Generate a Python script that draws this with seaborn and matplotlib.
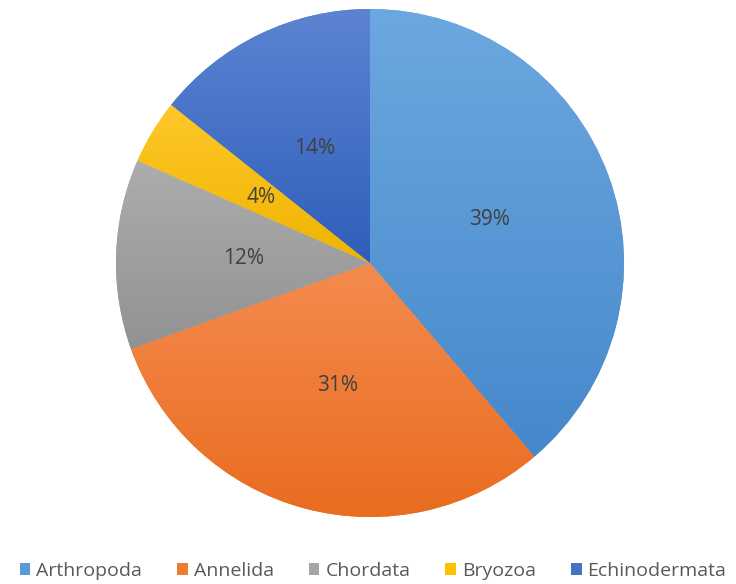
import numpy as np
import matplotlib
matplotlib.use("Agg")
import matplotlib.pyplot as plt
import matplotlib.colors as mcolors
import seaborn as sns

categories = ["Arthropoda", "Annelida", "Chordata", "Bryozoa", "Echinodermata"]
values = [38.8, 30.7, 12.1, 4.1, 14.3]
colors = ["#5B9BD5", "#ED7D31", "#A5A5A5", "#FFC000", "#4472C4"]
grad_top = ["#6CA8E0", "#F48B4E", "#ADADAD", "#FFC82A", "#5C84D2"]
grad_bot = ["#4588CB", "#E96C1F", "#929292", "#EFB300", "#2F5EBA"]

sns.set_theme(style="white")
plt.rcParams["font.family"] = ["Open Sans", "DejaVu Sans"]

W, H = 736, 584
fig = plt.figure(figsize=(W / 100, H / 100), dpi=100)
cx, cy, R = 370, 263, 254
ax = fig.add_axes([(cx - R) / W, (H - cy - R) / H, 2 * R / W, 2 * R / H])

wedges, texts, autotexts = ax.pie(
    values, colors=colors, startangle=90, counterclock=False,
    autopct="%.0f%%", pctdistance=0.5, radius=1,
    wedgeprops=dict(linewidth=0), textprops=dict(color="#404040", fontsize=15),
)
ax.set_aspect("equal")
ax.axis("off")

for w, ctop, cbot in zip(wedges, grad_top, grad_bot):
    bb = w.get_path().get_extents(w.get_patch_transform())
    top = np.array(mcolors.to_rgb(ctop))
    bot = np.array(mcolors.to_rgb(cbot))
    tt = np.linspace(0, 1, 256)[:, None]
    img = top[None, :] * (1 - tt) + bot[None, :] * tt
    img = np.repeat(img[:, None, :], 2, axis=1)
    im = ax.imshow(img, extent=[bb.x0, bb.x1, bb.y0, bb.y1], origin="upper",
                   aspect="auto", zorder=w.get_zorder() + 0.1, interpolation="bilinear")
    im.set_clip_path(w)
for t in autotexts:
    t.set_zorder(10)
ax.set_xlim(-1, 1)
ax.set_ylim(-1, 1)

leg = fig.legend(wedges, categories, loc="center", bbox_to_anchor=(373 / W, 1 - 571 / H),
                 ncol=5, frameon=False, fontsize=14, handlelength=0.55, handleheight=0.55,
                 handletextpad=0.3, columnspacing=1.8, labelcolor="#595959")
fig.savefig("out.png", dpi=100)
